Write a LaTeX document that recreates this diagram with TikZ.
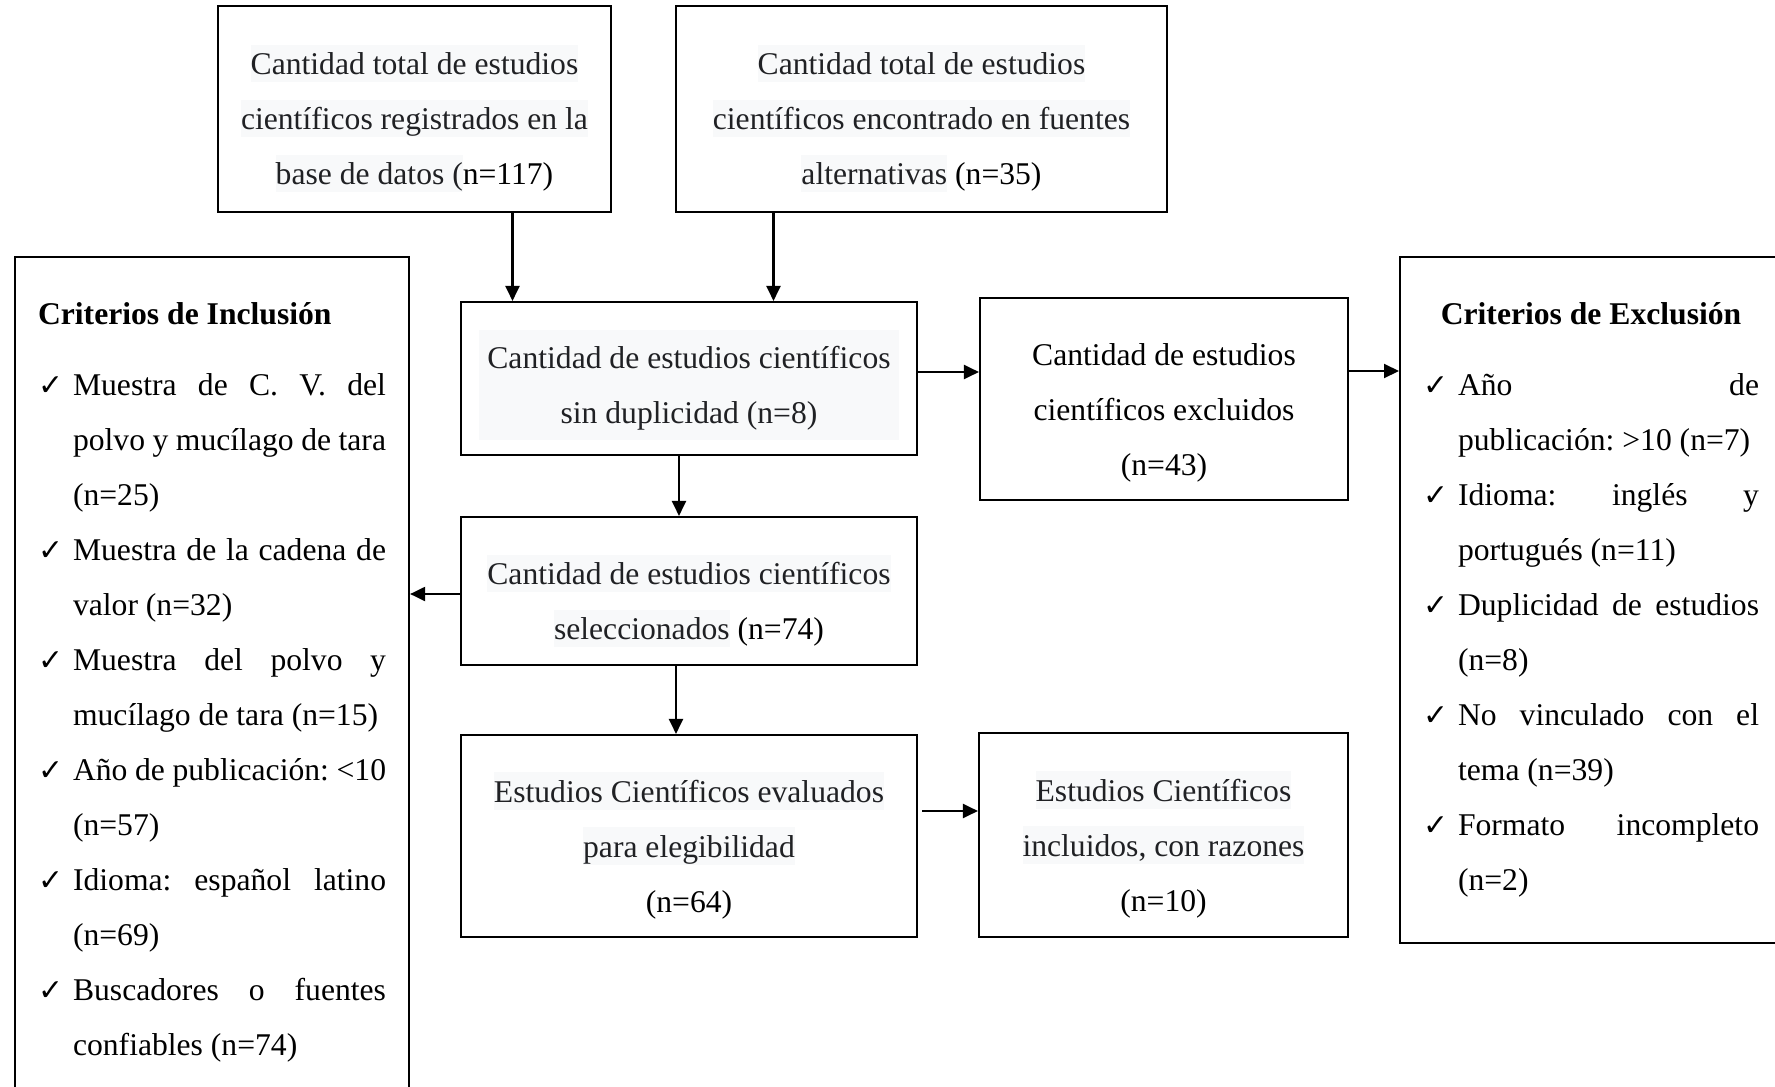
\documentclass[tikz,border=0pt]{standalone}
\usepackage{fontspec}
\setmainfont{Liberation Serif}
\newfontfamily\checkfont{DejaVu Sans}
\usetikzlibrary{arrows.meta}
\definecolor{hlgray}{HTML}{F8F9FA}
\definecolor{hltext}{HTML}{202124}
\newlength{\critind}\setlength{\critind}{3.5mm}
\newcommand{\topstrut}{\rule{0pt}{14pt}}
\newcommand{\hlbox}[1]{{\setlength{\fboxsep}{0pt}\colorbox{hlgray}{\rule[-2.1pt]{0pt}{10.6pt}\textcolor{hltext}{#1}}}}
\newcommand{\hlblock}[1]{{\setlength{\fboxsep}{0pt}\colorbox{hlgray}{\color{hltext}\begin{tabular}{@{\hspace{2.5pt}}c@{\hspace{2.5pt}}}#1\end{tabular}}}}
\newcommand{\critem}[1]{\par\noindent\hangindent=\critind\hangafter=1\makebox[\critind][l]{\checkfont\fontsize{8.5pt}{8.5pt}\selectfont ✓}#1\par}
\tolerance=10000 \hyphenpenalty=10000 \frenchspacing

\begin{document}
\begin{tikzpicture}[x=0.1mm,y=-0.1mm,line width=0.6pt,
  >={Triangle[length=1.5mm,width=1.4mm]},
  font=\fontsize{9pt}{15.65pt}\selectfont,
  box/.style={draw,align=center,inner sep=0pt},
  crit/.style={draw,anchor=north west,inner xsep=2.3mm,inner ysep=4.5mm}]
\useasboundingbox (0,0) rectangle (1775,1087);
\clip (0,0) rectangle (1775,1087);
% sources
\node[box,minimum width=39.3mm,minimum height=20.6mm] (db) at (414.5,109)
  {\topstrut\hlbox{Cantidad total de estudios}\\ \hlbox{científicos registrados en la}\\ \hlbox{base de datos (}n=117)};
\node[box,minimum width=49.1mm,minimum height=20.6mm] (alt) at (921.5,109)
  {\topstrut\hlbox{Cantidad total de estudios}\\ \hlbox{científicos encontrado en fuentes}\\ \hlbox{alternativas} (n=35)};
% screening column
\node[box,minimum width=45.6mm,minimum height=15.3mm] (dup) at (689,378.5)
  {\rule{0pt}{21.4pt}\hlblock{Cantidad de estudios científicos\\ sin duplicidad (n=8)}};
\node[box,minimum width=45.6mm,minimum height=14.8mm] (sel) at (689,591)
  {\topstrut\hlbox{Cantidad de estudios científicos}\\ \hlbox{seleccionados} (n=74)};
\node[box,minimum width=45.6mm,minimum height=20.2mm] (eval) at (689,836)
  {\topstrut\hlbox{Estudios Científicos evaluados}\\ \hlbox{para elegibilidad}\\ (n=64)};
% side boxes
\node[box,minimum width=36.8mm,minimum height=20.2mm] (excl) at (1164,399)
  {\topstrut Cantidad de estudios\\ científicos excluidos\\ (n=43)};
\node[box,minimum width=36.9mm,minimum height=20.4mm] (incl) at (1163.5,835)
  {\topstrut\hlbox{Estudios Científicos}\\ \hlbox{incluidos, con razones}\\ (n=10)};
% criteria lists
\node[crit] (inclcrit) at (14,256) {\parbox[c][90mm][t]{34.8mm}{%
  {\bfseries Criterios de Inclusión\par}\vspace{1.6mm}
  \critem{Muestra de C. V. del\linebreak polvo y mucílago de tara\linebreak (n=25)}
  \critem{Muestra de la cadena de\linebreak valor (n=32)}
  \critem{Muestra del polvo y\linebreak mucílago de tara (n=15)}
  \critem{Año de publicación: <10\linebreak (n=57)}
  \critem{Idioma: español latino\linebreak (n=69)}
  \critem{Buscadores o fuentes\linebreak confiables (n=74)}}};
\node[crit] (exclcrit) at (1399,256) {\parbox[c][59.6mm][t]{33.6mm}{%
  {\centering\bfseries Criterios de Exclusión\par}\vspace{1.6mm}
  \critem{Año de\linebreak publicación:~>10~(n=7)}
  \critem{Idioma: inglés y\linebreak portugués (n=11)}
  \critem{Duplicidad de estudios\linebreak (n=8)}
  \critem{No vinculado con el\linebreak tema (n=39)}
  \critem{Formato incompleto\linebreak (n=2)}}};
% connectors
\draw[->] ([xshift=9.8mm]db.south) -- ([xshift=9.8mm]db.south |- dup.north);
\draw[->] ([xshift=-14.8mm]alt.south) -- ([xshift=-14.8mm]alt.south |- dup.north);
\draw[->] ([yshift=0.65mm]dup.east) -- ([yshift=0.65mm]dup.east -| excl.west);
\draw[->] ([yshift=2.8mm]excl.east) -- ([yshift=2.8mm]excl.east -| exclcrit.west);
\draw[->] ([xshift=-1mm]dup.south) -- ([xshift=-1mm]dup.south |- sel.north);
\draw[->] ([yshift=-0.3mm]sel.west) -- ([yshift=-0.3mm]sel.west -| inclcrit.east);
\draw[->] ([xshift=-1.3mm]sel.south) -- ([xshift=-1.3mm]sel.south |- eval.north);
\draw[->] ([xshift=0.4mm,yshift=2.5mm]eval.east) -- ([yshift=2.5mm]eval.east -| incl.west);
\end{tikzpicture}
\end{document}
